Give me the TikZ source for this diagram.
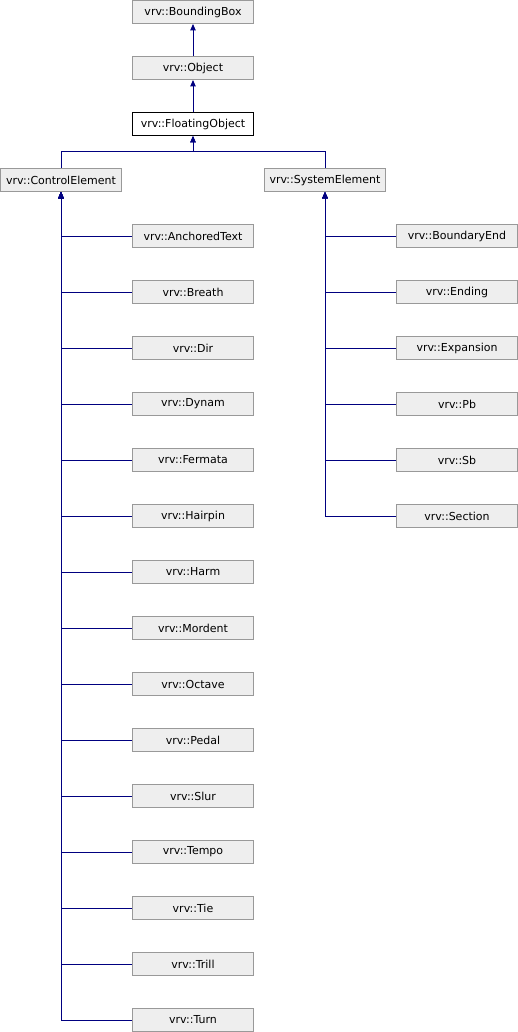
\documentclass[tikz,border=0pt]{standalone}
\usepackage{fontspec}
\setmainfont{DejaVu Sans}
\usetikzlibrary{arrows.meta}
\definecolor{boxfill}{HTML}{EEEEEE}
\definecolor{boxline}{HTML}{999999}
\definecolor{linkblue}{HTML}{000080}
\tikzset{
  cls/.style={draw=boxline, fill=boxfill, line width=1pt, minimum width=121pt, minimum height=23pt, inner sep=0pt, font=\fontsize{11}{13}\selectfont},
  cur/.style={cls, draw=black, fill=white},
  inh/.style={draw=linkblue, line width=1pt, {Triangle[width=5.5pt,length=6.5pt]}-}
}
\begin{document}
\begin{tikzpicture}[x=1pt,y=-1pt]
\useasboundingbox (0,0) rectangle (518,1032);
\node[cls] (bb) at (193,12) {vrv::BoundingBox};
\node[cls] (obj) at (193,68) {vrv::Object};
\node[cur] (fo) at (193,124) {vrv::FloatingObject};
\node[cls] (ce) at (61,180) {vrv::ControlElement};
\node[cls] (se) at (325,180) {vrv::SystemElement};
\coordinate (bar) at (193,152);
\draw[inh] (bb.south) -- (obj.north);
\draw[inh] (obj.south) -- (fo.north);
\draw[inh] (fo.south) -- (bar) -| (ce.north);
\draw[inh] (fo.south) -- (bar) -| (se.north);
\foreach \n [count=\k from 0] in {AnchoredText,Breath,Dir,Dynam,Fermata,Hairpin,Harm,Mordent,Octave,Pedal,Slur,Tempo,Tie,Trill,Turn}{
  \node[cls] (c\k) at (193,236+56*\k) {vrv::\n};
  \draw[inh] (ce.south) |- (c\k.west);
}
\foreach \n [count=\k from 0] in {BoundaryEnd,Ending,Expansion,Pb,Sb,Section}{
  \node[cls] (s\k) at (457,236+56*\k) {vrv::\n};
  \draw[inh] (se.south) |- (s\k.west);
}
\end{tikzpicture}
\end{document}
